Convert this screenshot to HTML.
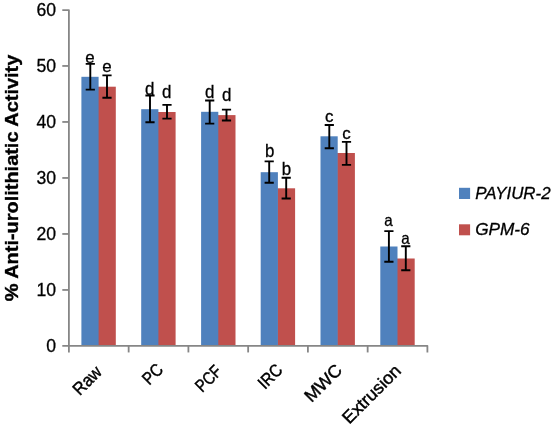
<!DOCTYPE html>
<html lang="en"><head><meta charset="utf-8"><title>Anti-urolithiatic Activity</title>
<style>html,body{margin:0;padding:0;background:#fff;}svg{display:block;}text{font-family:"Liberation Sans",Arial,sans-serif;fill:#000;}</style></head><body>
<svg width="551" height="424" viewBox="0 0 551 424">
<rect width="551" height="424" fill="#fff"/>
<rect x="98.0" y="86.7" width="17.8" height="259.3" fill="#c0504d"/>
<rect x="81.4" y="76.8" width="17.2" height="269.2" fill="#4f81bd"/>
<rect x="157.8" y="112.0" width="17.8" height="234.0" fill="#c0504d"/>
<rect x="141.2" y="109.2" width="17.2" height="236.8" fill="#4f81bd"/>
<rect x="217.7" y="115.1" width="17.8" height="230.9" fill="#c0504d"/>
<rect x="201.1" y="111.8" width="17.2" height="234.2" fill="#4f81bd"/>
<rect x="277.3" y="188.3" width="17.8" height="157.7" fill="#c0504d"/>
<rect x="260.7" y="172.2" width="17.2" height="173.8" fill="#4f81bd"/>
<rect x="337.1" y="153.0" width="17.8" height="193.0" fill="#c0504d"/>
<rect x="320.5" y="136.3" width="17.2" height="209.7" fill="#4f81bd"/>
<rect x="396.9" y="258.5" width="17.8" height="87.5" fill="#c0504d"/>
<rect x="380.3" y="246.5" width="17.2" height="99.5" fill="#4f81bd"/>
<g stroke="#868686" stroke-width="1.8" fill="none" stroke-linejoin="round">
<path d="M62.30 10.05H68.9V345.85H427.40V352.45"/>
<path d="M68.9 345.85V352.45M68.9 345.85H62.30"/>
<path d="M62.30 289.95H68.9"/>
<path d="M62.30 233.95H68.9"/>
<path d="M62.30 177.95H68.9"/>
<path d="M62.30 121.95H68.9"/>
<path d="M62.30 65.95H68.9"/>
<path d="M128.65 345.85V352.45"/>
<path d="M188.40 345.85V352.45"/>
<path d="M248.15 345.85V352.45"/>
<path d="M307.90 345.85V352.45"/>
<path d="M367.65 345.85V352.45"/>
</g>
<g stroke="#000" stroke-width="1.9" fill="none">
<path d="M90.3 63.9V89.6M85.7 63.9H94.9M85.7 89.6H94.9"/>
<path d="M107.0 75.4V97.7M102.4 75.4H111.6M102.4 97.7H111.6"/>
<path d="M150.0 95.5V122.3M145.4 95.5H154.6M145.4 122.3H154.6"/>
<path d="M167.0 104.9V118.6M162.4 104.9H171.6M162.4 118.6H171.6"/>
<path d="M209.7 100.5V123.6M205.1 100.5H214.3M205.1 123.6H214.3"/>
<path d="M226.5 109.6V120.5M221.9 109.6H231.1M221.9 120.5H231.1"/>
<path d="M269.2 161.4V182.8M264.6 161.4H273.8M264.6 182.8H273.8"/>
<path d="M286.2 177.8V198.5M281.6 177.8H290.8M281.6 198.5H290.8"/>
<path d="M329.3 125.0V148.2M324.7 125.0H333.9M324.7 148.2H333.9"/>
<path d="M346.5 141.9V164.9M341.9 141.9H351.1M341.9 164.9H351.1"/>
<path d="M388.9 231.1V261.7M384.3 231.1H393.5M384.3 261.7H393.5"/>
<path d="M405.8 246.2V270.2M401.2 246.2H410.4M401.2 270.2H410.4"/>
</g>
<g text-anchor="middle" stroke="#000" stroke-width="0.3">
<text transform="translate(89.9 62.6) scale(1.0 1)" font-size="16.9">e</text>
<text transform="translate(107.0 72.4) scale(1.0 1)" font-size="16.9">e</text>
<text transform="translate(149.6 95.2) scale(0.91 1)" font-size="18.6">d</text>
<text transform="translate(166.7 97.7) scale(0.91 1)" font-size="18.6">d</text>
<text transform="translate(209.7 97.9) scale(0.91 1)" font-size="18.6">d</text>
<text transform="translate(226.6 101.0) scale(0.91 1)" font-size="18.6">d</text>
<text transform="translate(269.8 157.0) scale(0.92 1)" font-size="18.4">b</text>
<text transform="translate(286.5 174.5) scale(0.92 1)" font-size="18.4">b</text>
<text transform="translate(329.3 122.4) scale(1.0 1)" font-size="16.9">c</text>
<text transform="translate(346.5 139.0) scale(1.0 1)" font-size="16.9">c</text>
<text transform="translate(388.6 226.2) scale(0.9 1)" font-size="16.9">a</text>
<text transform="translate(405.6 243.8) scale(0.9 1)" font-size="16.9">a</text>
</g>
<g font-size="17.6" text-anchor="end" stroke="#000" stroke-width="0.3">
<text x="56.0" y="351.8">0</text>
<text x="56.0" y="295.8">10</text>
<text x="56.0" y="239.8">20</text>
<text x="56.0" y="183.8">30</text>
<text x="56.0" y="127.8">40</text>
<text x="56.0" y="71.8">50</text>
<text x="56.0" y="15.8">60</text>
</g>
<g font-size="17.6" text-anchor="end" stroke="#000" stroke-width="0.45">
<text transform="translate(103.0 373.0) rotate(-45)" textLength="32.9" lengthAdjust="spacingAndGlyphs">Raw</text>
<text transform="translate(164.2 370.8) rotate(-45)" textLength="21.2" lengthAdjust="spacingAndGlyphs">PC</text>
<text transform="translate(222.8 372.6) rotate(-45)" textLength="28.9" lengthAdjust="spacingAndGlyphs">PCF</text>
<text transform="translate(283.7 371.2) rotate(-45)" textLength="26.5" lengthAdjust="spacingAndGlyphs">IRC</text>
<text transform="translate(343.2 371.3) rotate(-45)" textLength="45.0" lengthAdjust="spacingAndGlyphs">MWC</text>
<text transform="translate(402.2 371.8) rotate(-45)" textLength="75.0" lengthAdjust="spacingAndGlyphs">Extrusion</text>
</g>
<text transform="translate(18.1 178) rotate(-90)" font-size="18.9" font-weight="bold" stroke="#000" stroke-width="0.35" text-anchor="middle" textLength="246.6" lengthAdjust="spacingAndGlyphs">% Anti-urolithiatic Activity</text>
<rect x="459" y="187.8" width="11.1" height="11.2" fill="#4f81bd"/>
<rect x="459" y="224.3" width="11.1" height="11" fill="#c0504d"/>
<g font-size="16.3" font-style="italic" stroke="#000" stroke-width="0.3">
<text x="475.2" y="199.3" textLength="75.4" lengthAdjust="spacingAndGlyphs">PAYIUR-2</text>
<text x="475.2" y="235.2" textLength="54.5" lengthAdjust="spacingAndGlyphs">GPM-6</text>
</g>
</svg></body></html>
